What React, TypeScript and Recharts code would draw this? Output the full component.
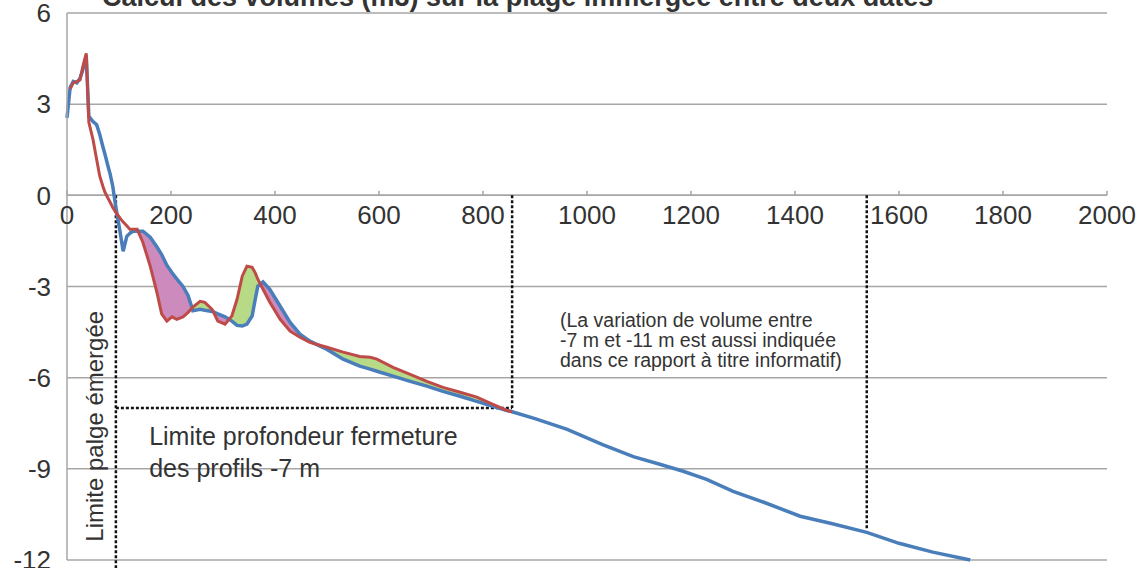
import React from 'react'
import {
  ComposedChart,
  Line,
  Area,
  XAxis,
  YAxis,
  CartesianGrid,
  ReferenceLine,
  ReferenceDot,
} from 'recharts'

// distance from the origin of the profile (m)
const distances = [
  0, 6, 12, 19, 25, 30, 37, 42, 50, 57, 63, 69, 73, 79, 83, 88, 94, 102, 108, 115, 121, 127, 135,
  146, 160, 173, 182, 192, 202, 211, 223, 233, 242, 256, 265, 279, 290, 304, 317, 327, 337, 346,
  356, 362, 367, 377, 390, 410, 429, 448, 467, 500, 531, 563, 583, 596, 627, 660, 692, 723, 756,
  788, 819, 846, 856, 900, 962, 1030, 1089, 1140, 1185, 1230, 1281, 1340, 1410, 1470, 1538, 1600,
  1665, 1737,
]

// elevation (m), first survey (blue)
const profileBlue = [
  2.55, 3.55, 3.75, 3.7, 3.85, 4.1, 4.6, 2.6, 2.43, 2.32, 2.0, 1.6, 1.35, 0.95, 0.7, 0.3, -0.4,
  -1.2, -1.84, -1.35, -1.25, -1.18, -1.18, -1.18, -1.38, -1.7, -1.95, -2.3, -2.55, -2.75, -3.0,
  -3.3, -3.8, -3.75, -3.78, -3.82, -3.9, -4.0, -4.14, -4.28, -4.3, -4.24, -3.97, -3.42, -2.99,
  -2.85, -3.09, -3.65, -4.18, -4.57, -4.8, -5.07, -5.39, -5.62, -5.72, -5.79, -5.95, -6.12, -6.28,
  -6.45, -6.61, -6.78, -6.94, -7.08, -7.12, -7.35, -7.7, -8.2, -8.6, -8.85, -9.08, -9.35, -9.74,
  -10.1, -10.56, -10.8, -11.09, -11.45, -11.74, -12.0,
]

// elevation (m), second survey (red)
const profileRed: (number | null)[] = [
  null, 3.5, 3.7, 3.75, 3.8, 4.2, 4.67, 2.4, 1.84, 1.18, 0.63, 0.3, 0.1, -0.1, -0.23, -0.4, -0.56,
  -0.75, -0.88, -1.0, -1.12, -1.12, -1.12, -1.55, -2.33, -3.2, -3.9, -4.14, -4.0, -4.08, -4.0,
  -3.85, -3.68, -3.49, -3.52, -3.75, -4.14, -4.24, -3.97, -3.42, -2.66, -2.33, -2.37, -2.55,
  -2.76, -3.09, -3.52, -4.08, -4.47, -4.67, -4.84, -5.0, -5.16, -5.3, -5.33, -5.39, -5.66, -5.89,
  -6.12, -6.32, -6.48, -6.64, -6.88, -7.08, -7.12, null, null, null, null, null, null, null, null,
  null, null, null, null, null, null, null,
]

const xTicks = [0, 200, 400, 600, 800, 1000, 1200, 1400, 1600, 1800, 2000]
const yTicks = [-12, -9, -6, -3, 0, 3, 6]

const emergedLimit = 94
const closureLimit = 856
const closureDepth = -7
const infoLimit = 1538
const infoDepth = -11
const fillFrom = 120

const FONT = '"Liberation Sans", Arial, sans-serif'
const BLUE = '#4a7ebb'
const RED = '#be4b48'
const PINK = '#cd8abd'
const GREEN = '#b6da86'
const GRID = '#a6a6a6'

type Row = { x: number; blue: number; red: number | null; pink?: number[]; green?: number[] }

function buildRows(): Row[] {
  const base: Row[] = []
  for (let i = 0; i < distances.length; i++) {
    base.push({ x: distances[i], blue: profileBlue[i], red: profileRed[i] })
    const j = i + 1
    if (j < distances.length && profileRed[i] != null && profileRed[j] != null) {
      const d0 = profileBlue[i] - (profileRed[i] as number)
      const d1 = profileBlue[j] - (profileRed[j] as number)
      if (d0 * d1 < 0) {
        const t = d0 / (d0 - d1)
        const x = distances[i] + t * (distances[j] - distances[i])
        const v = profileBlue[i] + t * (profileBlue[j] - profileBlue[i])
        base.push({ x, blue: v, red: v })
      }
    }
  }
  return base.map((r) => {
    const inside = r.red != null && r.x >= fillFrom && r.x <= closureLimit
    if (!inside) return { ...r, pink: [r.blue, r.blue], green: [r.blue, r.blue] }
    const red = r.red as number
    return {
      ...r,
      pink: r.blue > red ? [red, r.blue] : [r.blue, r.blue],
      green: red > r.blue ? [r.blue, red] : [red, red],
    }
  })
}

const rows = buildRows()

function NoteLabel(props: any) {
  const { viewBox, lines, size, gap } = props
  const x = viewBox?.x ?? 0
  const y = viewBox?.y ?? 0
  return (
    <text x={x} y={y} fontSize={size} fill="#333" fontFamily={FONT}>
      {lines.map((l: string, i: number) => (
        <tspan key={i} x={x} dy={i === 0 ? 0 : gap}>
          {l}
        </tspan>
      ))}
    </text>
  )
}

function VerticalLabel(props: any) {
  const { viewBox } = props
  const x = (viewBox?.x ?? 0) - 13
  const y = viewBox?.y ?? 0
  return (
    <text
      x={x}
      y={y}
      fontSize={24}
      fill="#333"
      fontFamily={FONT}
      textAnchor="middle"
      transform={`rotate(-90, ${x}, ${y})`}
    >
      Limite palge émergée
    </text>
  )
}

const dashed = { stroke: '#111', strokeWidth: 2.5, strokeDasharray: '3 2', ifOverflow: 'visible' as const }

export default function App() {
  return (
    <div style={{ position: 'absolute', left: 0, top: 0, width: 1141, height: 568, background: '#fff', overflow: 'hidden' }}>
      <div
        style={{
          position: 'absolute',
          left: 102,
          top: -16,
          fontFamily: FONT,
          fontSize: 27,
          lineHeight: '27px',
          fontWeight: 'bold',
          color: '#333',
          whiteSpace: 'nowrap',
        }}
      >
        Calcul des volumes (m3) sur la plage immergée entre deux dates
      </div>
      <ComposedChart width={1141} height={568} data={rows} margin={{ top: 13, right: 34, bottom: 8, left: 0 }}>
        <CartesianGrid vertical={false} stroke={GRID} strokeWidth={1.5} />
        <XAxis dataKey="x" type="number" domain={[0, 2000]} ticks={xTicks} hide />
        <YAxis
          type="number"
          domain={[-12, 6]}
          ticks={yTicks}
          width={67}
          axisLine={{ stroke: GRID, strokeWidth: 1.5 }}
          tickLine={false}
          tickSize={6}
          tickMargin={10}
          tick={{ fill: '#333', fontSize: 26, fontFamily: FONT }}
          interval={0}
        />
        <Area dataKey="pink" type="linear" stroke="none" fill={PINK} fillOpacity={1} isAnimationActive={false} dot={false} activeDot={false} />
        <Area dataKey="green" type="linear" stroke="none" fill={GREEN} fillOpacity={1} isAnimationActive={false} dot={false} activeDot={false} />

        <ReferenceLine y={0} stroke={GRID} strokeWidth={1.5} />
        {xTicks.map((t) => (
          <ReferenceLine key={'tk' + t} segment={[{ x: t, y: 0 }, { x: t, y: 0.15 }]} stroke={GRID} strokeWidth={1.5} />
        ))}
        {xTicks.map((t) => (
          <ReferenceDot
            key={'lb' + t}
            x={t}
            y={0}
            r={0}
            fill="none"
            stroke="none"
            label={{ value: String(t), position: 'bottom', offset: 10, fill: '#333', fontSize: 26, fontFamily: FONT }}
          />
        ))}

        <ReferenceLine segment={[{ x: emergedLimit, y: 0 }, { x: emergedLimit, y: -12.3 }]} {...dashed} />
        <ReferenceLine segment={[{ x: closureLimit, y: 0 }, { x: closureLimit, y: closureDepth }]} {...dashed} />
        <ReferenceLine segment={[{ x: emergedLimit, y: closureDepth }, { x: closureLimit, y: closureDepth }]} {...dashed} />
        <ReferenceLine segment={[{ x: infoLimit, y: 0 }, { x: infoLimit, y: infoDepth }]} {...dashed} />

        <Line dataKey="blue" type="linear" stroke={BLUE} strokeWidth={3.5} dot={false} activeDot={false} isAnimationActive={false} />
        <Line dataKey="red" type="linear" stroke={RED} strokeWidth={3} dot={false} activeDot={false} isAnimationActive={false} />

        <ReferenceDot
          x={emergedLimit}
          y={-7.6}
          r={0}
          fill="none"
          stroke="none"
          ifOverflow="visible"
          label={(p: any) => <VerticalLabel {...p} />}
        />
        <ReferenceDot
          x={158}
          y={-8.22}
          r={0}
          fill="none"
          stroke="none"
          ifOverflow="visible"
          label={(p: any) => (
            <NoteLabel {...p} lines={['Limite profondeur fermeture', 'des profils -7 m']} size={25} gap={32} />
          )}
        />
        <ReferenceDot
          x={948}
          y={-4.34}
          r={0}
          fill="none"
          stroke="none"
          ifOverflow="visible"
          label={(p: any) => (
            <NoteLabel
              {...p}
              lines={['(La variation de volume entre', '-7 m et -11 m est aussi indiquée', 'dans ce rapport à titre informatif)']}
              size={19.5}
              gap={20}
            />
          )}
        />
      </ComposedChart>
    </div>
  )
}
